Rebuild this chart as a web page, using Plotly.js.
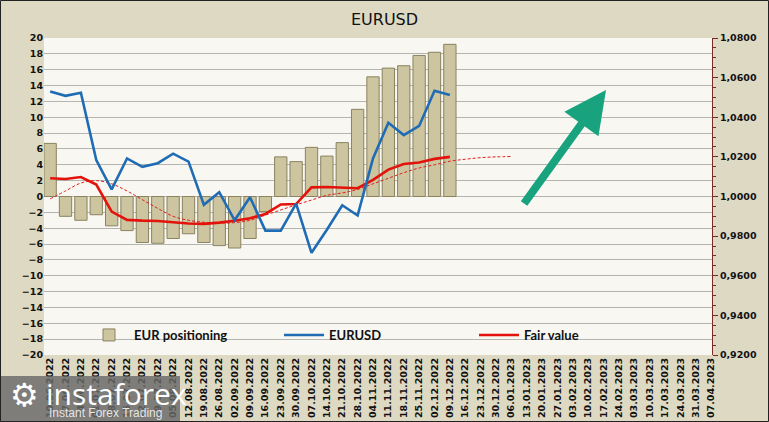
<!DOCTYPE html>
<html>
<head>
<meta charset="utf-8">
<script src="https://cdn.plot.ly/plotly-3.0.1.min.js"></script>
<style>
html,body{margin:0;padding:0;background:#DDD9C3;}
#chart{width:769px;height:422px;}
</style>
</head>
<body>
<div id="chart"></div>
<script>
const categories = ['10.06.2022','17.06.2022','24.06.2022','01.07.2022','08.07.2022','15.07.2022','22.07.2022','29.07.2022','05.08.2022','12.08.2022','19.08.2022','26.08.2022','02.09.2022','09.09.2022','16.09.2022','23.09.2022','30.09.2022','07.10.2022','14.10.2022','21.10.2022','28.10.2022','04.11.2022','11.11.2022','18.11.2022','25.11.2022','02.12.2022','09.12.2022','16.12.2022','23.12.2022','30.12.2022','06.01.2023','13.01.2023','20.01.2023','27.01.2023','03.02.2023','10.02.2023','17.02.2023','24.02.2023','03.03.2023','10.03.2023','17.03.2023','24.03.2023','31.03.2023','07.04.2023'];

const eurPositioning = [6.7, -2.5, -3.0, -2.3, -3.7, -4.3, -5.8, -5.9, -5.3, -4.7, -5.8, -6.2, -6.5, -5.3, -1.9, 5.0, 4.4, 6.2, 5.1, 6.8, 11.0, 15.1, 16.2, 16.5, 17.8, 18.2, 19.2];

const eurusd = [1.0530, 1.0508, 1.0524, 1.0184, 1.0036, 1.0192, 1.0150, 1.0168, 1.0216, 1.0176, 0.9958, 1.0022, 0.9880, 0.9996, 0.9828, 0.9828, 0.9964, 0.9716, 0.9832, 0.9956, 0.9904, 1.0192, 1.0372, 1.0310, 1.0356, 1.0534, 1.0512];

const fairValue = [1.0092, 1.0088, 1.0098, 1.0060, 0.9924, 0.9882, 0.9878, 0.9876, 0.9870, 0.9864, 0.9862, 0.9868, 0.9878, 0.9890, 0.9912, 0.9960, 0.9962, 1.0046, 1.0048, 1.0046, 1.0042, 1.0084, 1.0136, 1.0164, 1.0172, 1.0190, 1.0200];

const fairTrend = [0.9988, 1.0028, 1.0068, 1.0080, 1.0064, 1.0028, 0.9984, 0.9940, 0.9900, 0.9880, 0.9870, 0.9866, 0.9868, 0.9880, 0.9906, 0.9932, 0.9958, 0.9982, 1.0006, 1.0018, 1.0036, 1.0064, 1.0092, 1.0120, 1.0144, 1.0160, 1.0178, 1.0188, 1.0196, 1.0200, 1.0202];

const legendNames = ['EUR positioning', 'EURUSD', 'Fair value'];

const traces = [
  {
    type: 'bar', name: legendNames[0], legendrank: 1,
    x: categories.slice(0, eurPositioning.length), y: eurPositioning,
    yaxis: 'y', width: 0.8,
    marker: {color: '#CCC59F', line: {color: '#8A8360', width: 1}},
    hoverinfo: 'x+y'
  },
  {
    type: 'scatter', mode: 'lines', name: 'trend', showlegend: false,
    x: categories.slice(0, fairTrend.length), y: fairTrend, yaxis: 'y2',
    line: {color: '#E0201B', width: 1, dash: '3px,2px', shape: 'spline'}
  },
  {
    type: 'scatter', mode: 'lines', name: legendNames[2], legendrank: 3,
    x: categories.slice(0, fairValue.length), y: fairValue, yaxis: 'y2',
    line: {color: '#E3120B', width: 2.6}
  },
  {
    type: 'scatter', mode: 'lines', name: legendNames[1], legendrank: 2,
    x: categories.slice(0, eurusd.length), y: eurusd, yaxis: 'y2',
    line: {color: '#1F6CB4', width: 2.6}
  }
];

const W = 668, H = 317, L = 44, R = 57, T = 38, B = 67;

const layout = {
  width: 769, height: 422,
  margin: {l: L, r: R, t: T, b: B, pad: 0},
  paper_bgcolor: '#DDD9C3',
  plot_bgcolor: '#F8F7F2',
  separators: ', ',
  showlegend: true,
  font: {family: 'DejaVu Sans', color: '#000'},
  title: {text: 'EURUSD', x: 0.5, xanchor: 'center', y: 0.955, yanchor: 'middle',
          font: {family: 'DejaVu Sans', size: 16, color: '#111'}},
  bargap: 0.2,
  xaxis: {
    type: 'category', categoryorder: 'array', categoryarray: categories,
    range: [-0.4, 43.05], tickangle: -90,
    tickfont: {family: 'DejaVu Sans', size: 9.5, color: '#111', weight: 'bold'},
    showgrid: false, zeroline: false, showline: false, ticks: '',
    fixedrange: true
  },
  yaxis: {
    range: [-20, 20], dtick: 2, tick0: 0,
    tickfont: {family: 'DejaVu Sans', size: 9.5, color: '#111', weight: 'bold'},
    showgrid: true, gridcolor: '#B4B4B0', gridwidth: 1,
    zeroline: false, showline: false, ticks: '', ticklen: 0,
    fixedrange: true
  },
  yaxis2: {
    overlaying: 'y', side: 'right', range: [0.92, 1.08], dtick: 0.02, tick0: 0.92,
    tickformat: '.4f',
    tickfont: {family: 'DejaVu Sans', size: 9.5, color: '#111', weight: 'bold'},
    showgrid: false, zeroline: false,
    showline: true, linecolor: '#7A2A22', linewidth: 1,
    ticks: 'outside', ticklen: 5, tickcolor: '#7A2A22',
    minor: {dtick: 0.005, ticks: 'outside', ticklen: 3, tickcolor: '#7A2A22', showgrid: false},
    fixedrange: true
  },
  legend: {
    orientation: 'h', x: (84 - L) / W, xanchor: 'left', y: (355 - 335) / H, yanchor: 'middle',
    bgcolor: 'rgba(0,0,0,0)', borderwidth: 0,
    font: {family: 'Lato', size: 13, color: '#111', weight: 'bold'},
    itemwidth: 40, entrywidth: 140, traceorder: 'normal'
  },
  shapes: [
    {type: 'rect', xref: 'paper', yref: 'paper', layer: 'above',
     x0: -L / W, x1: (180 - L) / W, y0: -(422 - 355) / H, y1: -(376 - 355) / H,
     fillcolor: 'rgba(105,105,105,0.82)', line: {width: 0}},
    {type: 'rect', xref: 'paper', yref: 'paper', layer: 'above',
     x0: -L / W + 0.5 / W, x1: 1 + (R - 0.5) / W, y0: -(B - 0.5) / H, y1: 1 + (T - 0.5) / H,
     line: {color: '#222', width: 1}, fillcolor: 'rgba(0,0,0,0)'}
  ],
  annotations: [
    {xref: 'paper', yref: 'paper', x: (606 - L) / W, y: (355 - 90) / H,
     ax: -83, ay: 115, text: '', showarrow: true, arrowhead: 2, arrowsize: 1.05,
     arrowwidth: 8, arrowcolor: '#18A37E', standoff: 0},
    {xref: 'paper', yref: 'paper', x: (24 - L) / W, y: -(395 - 355) / H,
     text: '⚙', showarrow: false, xanchor: 'center', yanchor: 'middle',
     font: {family: 'DejaVu Sans', size: 32, color: '#FFFFFF'}},
    {xref: 'paper', yref: 'paper', x: (44 - L) / W, y: -(394 - 355) / H,
     text: 'instaforex', showarrow: false, xanchor: 'left', yanchor: 'middle',
     font: {family: 'Open Sans', size: 30, color: '#FFFFFF'}},
    {xref: 'paper', yref: 'paper', x: (47 - L) / W, y: -(413 - 355) / H,
     text: 'Instant Forex Trading', showarrow: false, xanchor: 'left', yanchor: 'middle',
     font: {family: 'Liberation Sans', size: 12, color: '#E6E6E6'}}
  ]
};

Plotly.newPlot('chart', traces, layout, {displayModeBar: false, staticPlot: true});
</script>
</body>
</html>
